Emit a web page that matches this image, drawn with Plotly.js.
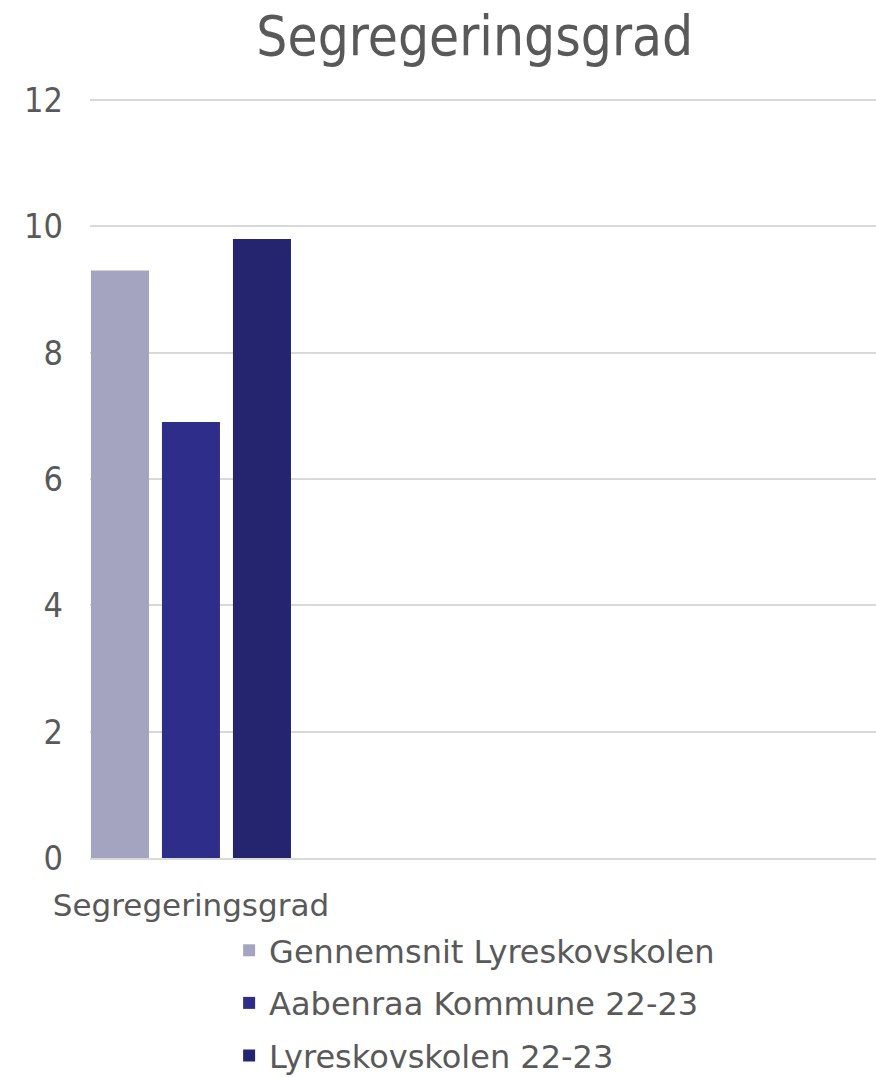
<!DOCTYPE html>
<html><head><meta charset="utf-8">
<script src="https://cdn.plot.ly/plotly-3.0.1.min.js"></script>
<style>html,body{margin:0;padding:0;background:#fff}#chart{width:876px;height:1077px}</style>
</head><body><div id="chart"></div>
<script>
const categories = ["Segregeringsgrad"];
const seriesNames = ["Gennemsnit Lyreskovskolen", "Aabenraa Kommune 22-23", "Lyreskovskolen 22-23"];
const seriesValues = [[9.3], [6.9], [9.8]];
const seriesColors = ["#A4A4C0", "#2E2E8A", "#24246F"];
const yTicks = [0, 2, 4, 6, 8, 10, 12];

const traces = seriesNames.map((n, i) => ({
  type: "bar", name: n, x: categories, y: seriesValues[i],
  marker: {color: seriesColors[i]}, legendgroup: "g" + i, hoverinfo: "skip"
}));

const layout = {
  width: 876, height: 1077,
  margin: {l: 90, r: 0, t: 98, b: 219, autoexpand: false},
  paper_bgcolor: "#fff", plot_bgcolor: "#fff",
  font: {family: "DejaVu Sans, Verdana, sans-serif", color: "#595959"},
  title: {text: "Segregeringsgrad", x: 0.542, xanchor: "center", y: 0.967, yanchor: "middle",
          font: {family: "DejaVu Sans Condensed, DejaVu Sans, sans-serif", size: 54.5, color: "#595959"}},
  barmode: "group", bargap: 0, bargroupgap: 0.183,
  xaxis: {type: "category", range: [-0.474, 3.216], showgrid: false, zeroline: false,
          showline: true, linecolor: "#D9D9D9", linewidth: 2, ticks: "", automargin: false,
          tickfont: {size: 31, color: "#595959"}, ticklabelstandoff: 19},
  yaxis: {range: [0, 12.03], tickvals: yTicks, ticktext: yTicks.map(String), showgrid: true,
          gridcolor: "#D9D9D9", gridwidth: 2, zeroline: false, showline: false, ticks: "", automargin: false,
          tickfont: {family: "DejaVu Sans Condensed, DejaVu Sans, sans-serif", size: 34, color: "#595959"},
          ticklabelstandoff: 26},
  showlegend: true,
  legend: {orientation: "v", x: 0.177, xanchor: "left", yref: "container", y: 0.143, yanchor: "top",
           font: {size: 32, color: "#595959"}, tracegroupgap: 8, itemwidth: 30,
           bgcolor: "rgba(0,0,0,0)", traceorder: "grouped"}
};
Plotly.newPlot("chart", traces, layout, {displayModeBar: false, staticPlot: true});
</script></body></html>
